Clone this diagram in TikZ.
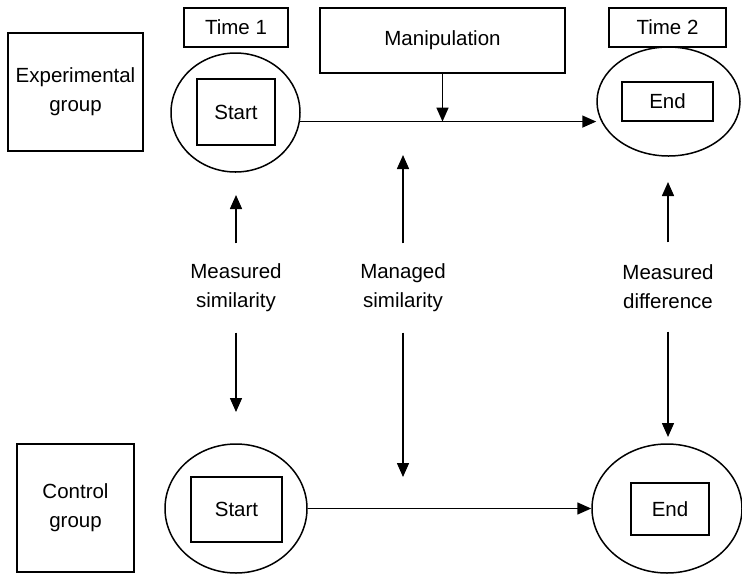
\documentclass[tikz,border=0pt]{standalone}
\usepackage{fontspec}
\setmainfont{Liberation Sans}
\usepackage{tikz}
\usetikzlibrary{arrows.meta,positioning,shapes.geometric}

\tikzset{
  txt/.style={font=\fontsize{20.5}{29}\selectfont, align=center},
  box/.style={txt, draw, line width=1.5pt, rectangle, inner sep=0pt},
  oval/.style={draw, line width=1.5pt, ellipse, inner sep=0pt},
  lbl/.style={txt, inner sep=0pt, minimum height=89pt},
  arr/.style={line width=1.5pt, -{Triangle[length=14pt,width=12pt]}}
}

\begin{document}
\begin{tikzpicture}[x=1pt,y=-1pt]
\useasboundingbox (0,0) rectangle (742,574);
% top row
\node [box, minimum width=135pt, minimum height=118pt] (exp) at (75.5,92) {Experimental\\group};
\node [box, minimum width=104pt, minimum height=39pt] (time1) at (236,27.5) {Time 1};
\node [box, minimum width=245pt, minimum height=65pt] (manip) at (442.5,40.5) {Manipulation};
\node [box, minimum width=117pt, minimum height=39pt] (time2) at (667.5,27.5) {Time 2};
\node [oval, minimum width=129pt, minimum height=119pt] (start1) at (235.5,112.5) {};
\node [box, minimum width=78pt, minimum height=66pt] (start1box) at (236,112) {Start};
\node [oval, minimum width=143pt, minimum height=109pt] (end1) at (668.5,101.5) {};
\node [box, minimum width=91pt, minimum height=39pt] (end1box) at (667.5,101.5) {End};
% bottom row
\node [box, minimum width=117pt, minimum height=128pt] (ctrl) at (75.5,508) {Control\\group};
\node [oval, minimum width=142pt, minimum height=129pt] (start2) at (236,508.5) {};
\node [box, minimum width=91pt, minimum height=65pt] (start2box) at (236.5,509.5) {Start};
\node [oval, minimum width=150pt, minimum height=129pt] (end2) at (667,508.5) {};
\node [box, minimum width=78pt, minimum height=52pt] (end2box) at (670,509) {End};
% middle labels
\node [lbl] (meassim) at (236,288) {Measured\\similarity};
\node [lbl] (mansim) at (403,288) {Managed\\similarity};
\node [lbl] (measdiff) at (668,287) {Measured\\difference};
\coordinate (meassimup) at (236,195);
\coordinate (meassimdown) at (236,412);
\coordinate (mansimup) at (403,155);
\coordinate (mansimdown) at (403,477);
\coordinate (measdiffup) at (668,182);
\coordinate (measdiffdown) at (668,437);

\draw [arr] (start1.-8) -- (end1.west |- start1.-8);
\draw [arr] (manip.south) -- (manip.south |- start1.-8);
\draw [arr] (start2) -- (end2);
\draw [arr] (meassim.north) -- (meassimup);
\draw [arr] (meassim.south) -- (meassimdown);
\draw [arr] (mansim.north) -- (mansimup);
\draw [arr] (mansim.south) -- (mansimdown);
\draw [arr] (measdiff.north) -- (measdiffup);
\draw [arr] (measdiff.south) -- (measdiffdown);
\end{tikzpicture}
\end{document}
